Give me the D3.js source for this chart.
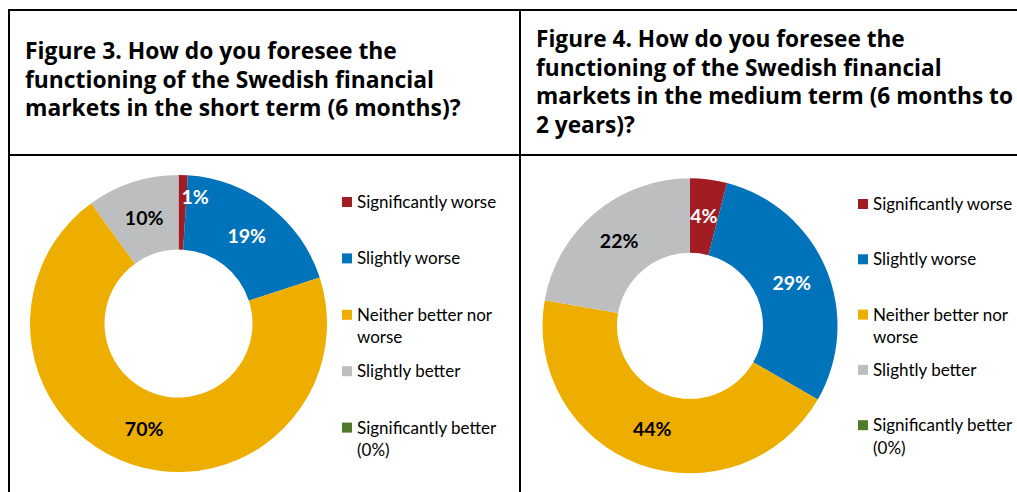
<!DOCTYPE html>
<html>
<head>
<meta charset="utf-8">
<script src="https://cdn.jsdelivr.net/npm/d3@7"></script>
<style>
  html, body { margin: 0; padding: 0; background: #fff; }
  svg { display: block; }
</style>
</head>
<body>
<svg id="chart" width="1017" height="492"></svg>
<script>
// Answer categories, in slice order (clockwise from 12 o'clock)
const categories = [
  "Significantly worse",
  "Slightly worse",
  "Neither better nor worse",
  "Slightly better",
  "Significantly better (0%)"
];
// Legend text, broken into lines
const legendLines = [
  ["Significantly worse"],
  ["Slightly worse"],
  ["Neither better nor", "worse"],
  ["Slightly better"],
  ["Significantly better", "(0%)"]
];
// Share of answers (%)
const shortTermValues = [1, 19, 70, 10, 0];
const mediumTermValues = [4, 29, 44, 22, 0];
// Figure titles, line by line
const shortTermTitle = [
  "Figure 3. How do you foresee the",
  "functioning of the Swedish financial",
  "markets in the short term (6 months)?"
];
const mediumTermTitle = [
  "Figure 4. How do you foresee the",
  "functioning of the Swedish financial",
  "markets in the medium term (6 months to",
  "2 years)?"
];

const sliceColors = ["#A21D23", "#0173BB", "#EEAE00", "#BDBEC0", "#4F7A28"];
const labelColors = ["#fff", "#fff", "#000", "#000", "#000"];

const svg = d3.select("#chart");

// Table frame
const frame = svg.append("g").attr("stroke", "#000").attr("stroke-width", 2);
frame.append("line").attr("x1", 8).attr("x2", 1017).attr("y1", 10).attr("y2", 10);
frame.append("line").attr("x1", 8).attr("x2", 1017).attr("y1", 155).attr("y2", 155);
frame.append("line").attr("x1", 9).attr("x2", 9).attr("y1", 9).attr("y2", 492);
frame.append("line").attr("x1", 520).attr("x2", 520).attr("y1", 9).attr("y2", 492);

const titleFont = "'Open Sans', 'DejaVu Sans', sans-serif";
const bodyFont = "Lato, 'Open Sans', sans-serif";

function drawTitle(lines, x, y0, targetWidth) {
  const g = svg.append("g");
  const t = g.selectAll("text").data(lines).join("text")
    .attr("x", x)
    .attr("y", (d, i) => y0 + i * 28.5)
    .attr("font-family", titleFont)
    .attr("font-weight", 700)
    .attr("font-size", 20)
    .attr("fill", "#000")
    .text(d => d);
  // scale the font so the first line spans the wanted width
  const w = t.node().getComputedTextLength();
  t.attr("font-size", 20 * targetWidth / w);
}

function drawDonut(values, cfg) {
  const total = d3.sum(values);
  const pie = d3.pie().sort(null).value(d => d)(values);
  const arc = d3.arc().innerRadius(cfg.rIn).outerRadius(cfg.rOut);
  const g = svg.append("g").attr("transform", `translate(${cfg.cx},${cfg.cy})`);

  g.selectAll("path").data(pie).join("path")
    .attr("d", arc)
    .attr("fill", (d, i) => sliceColors[i]);

  const nearEdge = d3.arc().innerRadius(cfg.rOut * 0.85).outerRadius(cfg.rOut * 0.85);

  g.selectAll("text").data(pie.filter(d => d.value > 0)).join("text")
    .each(function (d) {
      const small = d.value / total < 0.02;
      const [x, y] = small ? nearEdge.centroid(d) : arc.centroid(d);
      d3.select(this)
        .attr("x", small ? x - 1 : x)
        .attr("y", y)
        .attr("text-anchor", small ? "start" : "middle");
    })
    .attr("dy", "0.36em")
    .attr("font-family", bodyFont)
    .attr("font-weight", 700)
    .attr("font-size", 19.5)
    .attr("fill", d => labelColors[d.index])
    .text(d => d.value + "%");

  // Legend
  const lg = svg.append("g");
  const item = lg.selectAll("g").data(legendLines).join("g")
    .attr("transform", (d, i) => `translate(${cfg.legendX},${cfg.legendY + i * cfg.legendStep})`);
  item.append("rect")
    .attr("x", 0).attr("y", -5).attr("width", 10).attr("height", 10)
    .attr("fill", (d, i) => sliceColors[i]);
  item.selectAll("text").data(d => d).join("text")
    .attr("x", 15)
    .attr("y", (d, j) => j * 22.5)
    .attr("dy", "0.35em")
    .attr("font-family", bodyFont)
    .attr("font-size", 17)
    .attr("fill", "#000")
    .text(d => d);
}

drawTitle(shortTermTitle, 25, 59, 372);
drawTitle(mediumTermTitle, 536, 47, 369);

drawDonut(shortTermValues, {
  cx: 178.5, cy: 323.5, rOut: 148.5, rIn: 74,
  legendX: 342, legendY: 202, legendStep: 56.4
});
drawDonut(mediumTermValues, {
  cx: 690, cy: 325.8, rOut: 147.5, rIn: 73,
  legendX: 858, legendY: 204, legendStep: 55.3
});
</script>
</body>
</html>
